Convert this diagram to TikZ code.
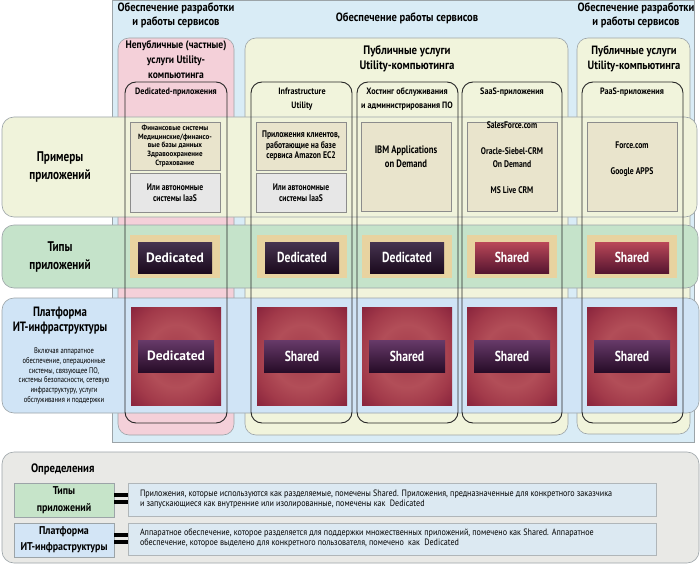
\documentclass[tikz,border=0pt]{standalone}
\usepackage{fontspec}
\setmainfont{PT Sans}
\newfontfamily\cf{PT Sans}[FakeStretch=0.8]
\newfontfamily\cg{PT Sans}[FakeStretch=0.88]
\newfontfamily\ch{PT Sans}[FakeStretch=0.92]
\newfontfamily\wf{PT Sans}
\definecolor{outerblue}{HTML}{D9ECF6}
\definecolor{bord}{HTML}{9CA4A8}
\definecolor{pinkc}{HTML}{F4D0D9}
\definecolor{yellowc}{HTML}{F1F4DC}
\definecolor{exrow}{HTML}{F0F3DB}
\definecolor{typrow}{HTML}{C5E3CA}
\definecolor{platrow}{HTML}{D0E4F6}
\definecolor{beige}{HTML}{E9E4CC}
\definecolor{greyb}{HTML}{E7E7E7}
\definecolor{tanc}{HTML}{E8D3A0}
\definecolor{dtop}{HTML}{463450}
\definecolor{dbot}{HTML}{1B0A1D}
\definecolor{stop}{HTML}{BA4858}
\definecolor{sbot}{HTML}{561530}
\definecolor{bartop}{HTML}{673A69}
\definecolor{barmid}{HTML}{4A264C}
\definecolor{barbot}{HTML}{270C28}
\definecolor{pso}{HTML}{85203A}
\definecolor{psm}{HTML}{A23A4A}
\definecolor{psc}{HTML}{B24E58}
\definecolor{defpanel}{HTML}{E9E9E6}
\definecolor{deftext}{HTML}{DCE9F2}
\definecolor{defgreen}{HTML}{C6E4C9}
\definecolor{defblue}{HTML}{D3E5F6}
\pgfdeclareradialshading{platsh}{\pgfpoint{0bp}{0bp}}{color(0bp)=(psm); color(16bp)=(psc); color(26bp)=(psm); color(37bp)=(pso); color(50bp)=(pso)}
\begin{document}
\begin{tikzpicture}[x=1pt,y=-1pt,
  every node/.style={inner sep=0pt, outer sep=0pt},
  bx/.style={anchor=north west, inner sep=0pt, outer sep=0pt},
  colbox/.style={bx, draw=bord, line width=0.6pt, rounded corners=11pt},
  rowbox/.style={bx, draw=bord, line width=0.6pt, rounded corners=12pt},
  blk/.style={bx, draw=black!85, line width=0.9pt, rounded corners=11pt, minimum height=341pt},
  exbox/.style={bx, draw=black!45, line width=0.6pt, align=center},
  tframe/.style={bx, fill=tanc, minimum width=90pt, minimum height=43pt},
  dedlab/.style={bx, top color=dtop, bottom color=dbot, minimum width=74pt, minimum height=31pt, text=white},
  shlab/.style={bx, top color=stop, bottom color=sbot, minimum width=74pt, minimum height=31pt, text=white},
  psq/.style={bx, shading=platsh, minimum width=90pt, minimum height=98pt},
  pbar/.style={bx, top color=bartop, middle color=barmid, bottom color=barbot, minimum width=76pt, minimum height=32pt, text=white},
  hd/.style={font=\cg\bfseries\fontsize{12}{14.5}\selectfont, align=center},
  ct/.style={font=\cg\bfseries\fontsize{9.2}{13.5}\selectfont, align=center},
  rl/.style={font=\cf\bfseries\fontsize{14}{18}\selectfont, align=center},
  wide/.style={font=\wf\bfseries\fontsize{13.5}{16}\selectfont},
  cond/.style={font=\cf\bfseries\fontsize{14.5}{16}\selectfont},
  eqbar/.style={bx, fill=black, minimum width=14pt, minimum height=4pt}
]
\useasboundingbox (0,0) rectangle (700,564);
\fill[white] (0,0) rectangle (700,564);
% outer frame
\node (outer) [bx, fill=outerblue, draw=bord, line width=0.6pt, minimum width=582pt, minimum height=442pt] at (112,0.5) {};
\node (pinkbox) [colbox, fill=pinkc, minimum width=116pt, minimum height=397pt] at (118,38) {};
\node (pubbox) [colbox, fill=yellowc, minimum width=323pt, minimum height=397pt] at (245,38) {};
\node (pubbox2) [colbox, fill=yellowc, minimum width=113pt, minimum height=396pt] at (577,38) {};
% top headers
\node (h1) [hd] at (176,15.5) {Обеспечение разработки\\и работы сервисов};
\node (h2) [hd] at (407,18) {Обеспечение работы сервисов};
\node (h3) [hd] at (636,15.5) {Обеспечение разработки\\и работы сервисов};
\node (t1) [font=\cg\bfseries\fontsize{10.9}{15}\selectfont, align=center] at (176,60) {Непубличные (частные)\\услуги Utility-\\компьютинга};
\node (t2) [font=\cg\bfseries\fontsize{12.3}{15.5}\selectfont, align=center] at (407,59) {Публичные услуги\\Utility-компьютинга};
\node (t3) [font=\cg\bfseries\fontsize{12}{15.5}\selectfont, align=center] at (634,59) {Публичные услуги\\Utility-компьютинга};
% rows
\node (exrowbox) [rowbox, fill=exrow, minimum width=695pt, minimum height=100pt] at (2,117) {};
\node (typrowbox) [rowbox, fill=typrow, minimum width=696pt, minimum height=63pt] at (2,225) {};
\node (platrowbox) [rowbox, fill=platrow, minimum width=697pt, minimum height=115pt] at (2,298) {};
\node (exlab) [rl] at (60,167) {Примеры\\приложений};
\node (typlab) [rl] at (60,257) {Типы\\приложений};
\node (platlab) [rl, font=\cf\bfseries\fontsize{13.5}{15}\selectfont] at (60,320.5) {Платформа\\ИТ-инфраструктуры};
\node (platdesc) [font=\cf\fontsize{8.2}{9.7}\selectfont, align=center] at (64,376) {Включая аппаратное\\обеспечение, операционные\\системы, связующее ПО,\\системы безопасности, сетевую\\инфраструктуру, услуги\\обслуживания и поддержки};
% black column outlines
\node (c1) [blk, minimum width=102pt] at (125,82) {};
\node (c2) [blk, minimum width=101pt] at (251,82) {};
\node (c3) [blk, minimum width=101pt] at (357,82) {};
\node (c4) [blk, minimum width=100pt] at (462,82) {};
\node (c5) [blk, minimum width=101pt] at (582,82) {};
\node (c1t) [ct] at (176,92) {Dedicated-приложения};
\node (c2t) [ct] at (302,99) {Infrastructure\\Utility};
\node (c3t) [ct] at (407,99) {Хостинг обслуживания\\и администрирования ПО};
\node (c4t) [ct] at (512,92) {SaaS-приложения};
\node (c5t) [ct] at (632,92) {PaaS-приложения};
% example boxes
\node (e1a) [exbox, fill=beige, minimum width=90pt, minimum height=48pt, font=\ch\bfseries\fontsize{7.6}{8.7}\selectfont] at (130,122) {Финансовые системы\\Медицинские/финансо-\\вые базы данных\\Здравоохранение\\Страхование};
\node (e1b) [exbox, fill=greyb, minimum width=90pt, minimum height=39pt, font=\cf\bfseries\fontsize{9.5}{10.5}\selectfont] at (130,173) {Или автономные\\системы IaaS};
\node (e2a) [exbox, fill=beige, minimum width=90pt, minimum height=48pt, font=\cf\bfseries\fontsize{9.6}{10.5}\selectfont] at (256,122) {Приложения клиентов,\\работающие на базе\\сервиса Amazon EC2};
\node (e2b) [exbox, fill=greyb, minimum width=90pt, minimum height=39pt, font=\cf\bfseries\fontsize{9.5}{10.5}\selectfont] at (256,173) {Или автономные\\системы IaaS};
\node (e3) [exbox, fill=beige, minimum width=90pt, minimum height=89pt, font=\cf\bfseries\fontsize{10.8}{14}\selectfont] at (361,122) {IBM Applications\\on Demand\\[6pt]};
\node (e4) [exbox, fill=beige, minimum width=90pt, minimum height=89pt, font=\cf\bfseries\fontsize{9.6}{13}\selectfont] at (467,122) {SalesForce.com\\[13pt]Oracle-Siebel-CRM\\On Demand\\[13pt]MS Live CRM\\[4pt]};
\node (e5) [exbox, fill=beige, minimum width=90pt, minimum height=89pt, font=\cf\bfseries\fontsize{9.6}{13}\selectfont] at (587,122) {Force.com\\[13pt]Google APPS\\[4pt]};
% type row
\node (f1) [tframe] at (130,235) {};
\node (f2) [tframe] at (257,235) {};
\node (f3) [tframe] at (362,235) {};
\node (f4) [tframe] at (467,235) {};
\node (f5) [tframe] at (587,235) {};
\node (d1) [dedlab, wide] at (138,242) {Dedicated};
\node (d2) [dedlab, cond] at (265,242) {Dedicated};
\node (d3) [dedlab, cond] at (370,242) {Dedicated};
\node (d4) [shlab, cond] at (475,242) {Shared};
\node (d5) [shlab, cond] at (595,242) {Shared};
% platform row
\node (p1) [psq] at (131,307) {};
\node (p2) [psq] at (257,307) {};
\node (p3) [psq] at (362,307) {};
\node (p4) [psq] at (467,307) {};
\node (p5) [psq] at (587,307) {};
\node (b1) [pbar, wide] at (138,340) {Dedicated};
\node (b2) [pbar, cond] at (264,340) {Shared};
\node (b3) [pbar, cond] at (369,340) {Shared};
\node (b4) [pbar, cond] at (474,340) {Shared};
\node (b5) [pbar, cond] at (594,340) {Shared};
% definitions
\node (defp) [rowbox, fill=defpanel, minimum width=697pt, minimum height=111pt] at (2,452) {};
\node (deftitle) [anchor=west, font=\cg\bfseries\fontsize{12.2}{14}\selectfont] at (31,469) {Определения};
\node (dg) [bx, fill=defgreen, draw=bord, line width=0.6pt, minimum width=100pt, minimum height=34pt, align=center, font=\cg\bfseries\fontsize{11.3}{17}\selectfont] at (14,483) {Типы\\приложений};
\node (db) [bx, fill=defblue, draw=bord, line width=0.6pt, minimum width=100pt, minimum height=34pt, align=center, font=\cg\bfseries\fontsize{11.3}{16}\selectfont] at (14,523) {Платформа\\ИТ-инфраструктуры};
\node (eq1a) [eqbar] at (114,493) {};
\node (eq1b) [eqbar] at (114,500) {};
\node (eq2a) [eqbar] at (114,533) {};
\node (eq2b) [eqbar] at (114,540) {};
\node (dt1) [bx, fill=deftext, draw=bord!80, line width=0.6pt, minimum width=528pt, minimum height=33pt] at (128,483) {};
\node (dt2) [bx, fill=deftext, draw=bord!80, line width=0.6pt, minimum width=528pt, minimum height=32pt] at (128,523) {};
\node (dt1t) [anchor=west, align=left, font=\cg\fontsize{9.2}{9.8}\selectfont] at (140,499) {Приложения, которые используются как разделяемые, помечены Shared. Приложения, предназначенные для конкретного заказчика\\и запускающиеся как внутренние или изолированные, помечены как~ Dedicated};
\node (dt2t) [anchor=west, align=left, font=\cg\fontsize{9.2}{9.8}\selectfont] at (140,538) {Аппаратное обеспечение, которое разделяется для поддержки множественных приложений, помечено как Shared. Аппаратное\\обеспечение, которое выделено для конкретного пользователя, помечено~ как~ Dedicated};
\end{tikzpicture}
\end{document}
